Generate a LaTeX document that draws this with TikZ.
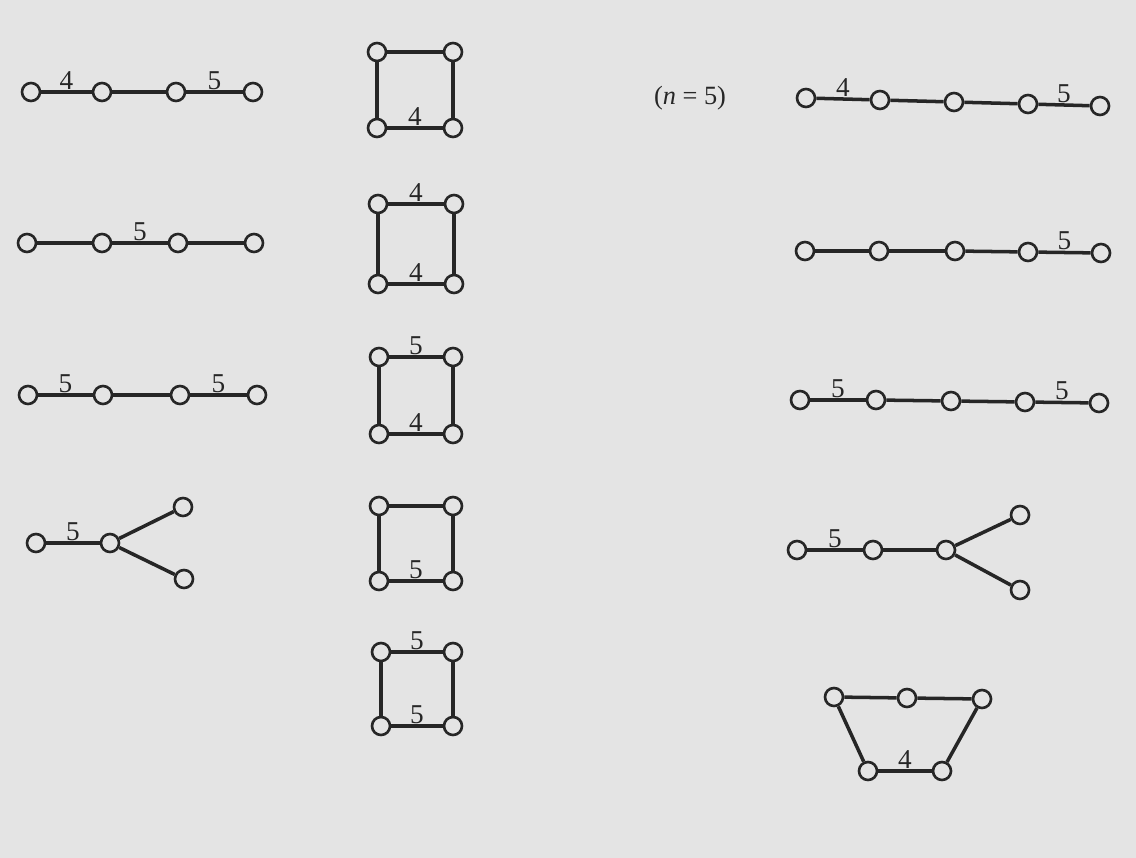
\documentclass[tikz,border=0pt]{standalone}
\usepackage{fontspec}
\setmainfont{Liberation Serif}
\definecolor{paper}{HTML}{E4E4E4}
\definecolor{ink}{HTML}{262626}
\tikzset{
  vtx/.style={circle,draw=ink,line width=1.5pt,fill=paper,minimum size=0.36cm,inner sep=0pt},
  bond/.style={draw=ink,line width=2pt},
  lbl/.style={above,inner sep=0.5pt,text=ink,font=\fontsize{15.5}{17}\selectfont},
}
\begin{document}
\begin{tikzpicture}[x=0.02cm,y=-0.02cm]
\fill[paper] (0,0) rectangle (1136,858);
\useasboundingbox (0,0) rectangle (1136,858);
% ---------- left column ----------
% row 1
\node[vtx] (a1) at (31,92) {};
\node[vtx] (a2) at (102,92) {};
\node[vtx] (a3) at (176,92) {};
\node[vtx] (a4) at (253,92) {};
\draw[bond] (a1) -- node[lbl]{4} (a2);
\draw[bond] (a2) -- (a3);
\draw[bond] (a3) -- node[lbl]{5} (a4);
% row 2
\node[vtx] (b1) at (27,243) {};
\node[vtx] (b2) at (102,243) {};
\node[vtx] (b3) at (178,243) {};
\node[vtx] (b4) at (254,243) {};
\draw[bond] (b1) -- (b2);
\draw[bond] (b2) -- node[lbl]{5} (b3);
\draw[bond] (b3) -- (b4);
% row 3
\node[vtx] (c1) at (28,395) {};
\node[vtx] (c2) at (103,395) {};
\node[vtx] (c3) at (180,395) {};
\node[vtx] (c4) at (257,395) {};
\draw[bond] (c1) -- node[lbl]{5} (c2);
\draw[bond] (c2) -- (c3);
\draw[bond] (c3) -- node[lbl]{5} (c4);
% row 4
\node[vtx] (d1) at (36,543) {};
\node[vtx] (d2) at (110,543) {};
\node[vtx] (d3) at (183,507) {};
\node[vtx] (d4) at (184,579) {};
\draw[bond] (d1) -- node[lbl]{5} (d2);
\draw[bond] (d2) -- (d3);
\draw[bond] (d2) -- (d4);
% ---------- middle column ----------
% square 1
\node[vtx] (s1a) at (377,52) {};
\node[vtx] (s1b) at (453,52) {};
\node[vtx] (s1c) at (377,128) {};
\node[vtx] (s1d) at (453,128) {};
\draw[bond] (s1a) -- (s1b);
\draw[bond] (s1a) -- (s1c);
\draw[bond] (s1b) -- (s1d);
\draw[bond] (s1c) -- node[lbl]{4} (s1d);
% square 2
\node[vtx] (s2a) at (378,204) {};
\node[vtx] (s2b) at (454,204) {};
\node[vtx] (s2c) at (378,284) {};
\node[vtx] (s2d) at (454,284) {};
\draw[bond] (s2a) -- node[lbl]{4} (s2b);
\draw[bond] (s2a) -- (s2c);
\draw[bond] (s2b) -- (s2d);
\draw[bond] (s2c) -- node[lbl]{4} (s2d);
% square 3
\node[vtx] (s3a) at (379,357) {};
\node[vtx] (s3b) at (453,357) {};
\node[vtx] (s3c) at (379,434) {};
\node[vtx] (s3d) at (453,434) {};
\draw[bond] (s3a) -- node[lbl]{5} (s3b);
\draw[bond] (s3a) -- (s3c);
\draw[bond] (s3b) -- (s3d);
\draw[bond] (s3c) -- node[lbl]{4} (s3d);
% square 4
\node[vtx] (s4a) at (379,506) {};
\node[vtx] (s4b) at (453,506) {};
\node[vtx] (s4c) at (379,581) {};
\node[vtx] (s4d) at (453,581) {};
\draw[bond] (s4a) -- (s4b);
\draw[bond] (s4a) -- (s4c);
\draw[bond] (s4b) -- (s4d);
\draw[bond] (s4c) -- node[lbl]{5} (s4d);
% square 5
\node[vtx] (s5a) at (381,652) {};
\node[vtx] (s5b) at (453,652) {};
\node[vtx] (s5c) at (381,726) {};
\node[vtx] (s5d) at (453,726) {};
\draw[bond] (s5a) -- node[lbl]{5} (s5b);
\draw[bond] (s5a) -- (s5c);
\draw[bond] (s5b) -- (s5d);
\draw[bond] (s5c) -- node[lbl]{5} (s5d);
% ---------- right column ----------
\node[text=ink,font=\fontsize{15}{17}\selectfont] (nlab) at (690,98) {(\textit{n} = 5)};
% row 1
\node[vtx] (e1) at (806,98) {};
\node[vtx] (e2) at (880,100) {};
\node[vtx] (e3) at (954,102) {};
\node[vtx] (e4) at (1028,104) {};
\node[vtx] (e5) at (1100,106) {};
\draw[bond] (e1) -- node[lbl]{4} (e2);
\draw[bond] (e2) -- (e3);
\draw[bond] (e3) -- (e4);
\draw[bond] (e4) -- node[lbl]{5} (e5);
% row 2
\node[vtx] (f1) at (805,251) {};
\node[vtx] (f2) at (879,251) {};
\node[vtx] (f3) at (955,251) {};
\node[vtx] (f4) at (1028,252) {};
\node[vtx] (f5) at (1101,253) {};
\draw[bond] (f1) -- (f2);
\draw[bond] (f2) -- (f3);
\draw[bond] (f3) -- (f4);
\draw[bond] (f4) -- node[lbl]{5} (f5);
% row 3
\node[vtx] (g1) at (800,400) {};
\node[vtx] (g2) at (876,400) {};
\node[vtx] (g3) at (951,401) {};
\node[vtx] (g4) at (1025,402) {};
\node[vtx] (g5) at (1099,403) {};
\draw[bond] (g1) -- node[lbl]{5} (g2);
\draw[bond] (g2) -- (g3);
\draw[bond] (g3) -- (g4);
\draw[bond] (g4) -- node[lbl]{5} (g5);
% row 4
\node[vtx] (h1) at (797,550) {};
\node[vtx] (h2) at (873,550) {};
\node[vtx] (h3) at (946,550) {};
\node[vtx] (h4) at (1020,515) {};
\node[vtx] (h5) at (1020,590) {};
\draw[bond] (h1) -- node[lbl]{5} (h2);
\draw[bond] (h2) -- (h3);
\draw[bond] (h3) -- (h4);
\draw[bond] (h3) -- (h5);
% trapezoid
\node[vtx] (t1) at (834,697) {};
\node[vtx] (t2) at (907,698) {};
\node[vtx] (t3) at (982,699) {};
\node[vtx] (t4) at (868,771) {};
\node[vtx] (t5) at (942,771) {};
\draw[bond] (t1) -- (t2);
\draw[bond] (t2) -- (t3);
\draw[bond] (t1) -- (t4);
\draw[bond] (t3) -- (t5);
\draw[bond] (t4) -- node[lbl]{4} (t5);
\end{tikzpicture}
\end{document}
